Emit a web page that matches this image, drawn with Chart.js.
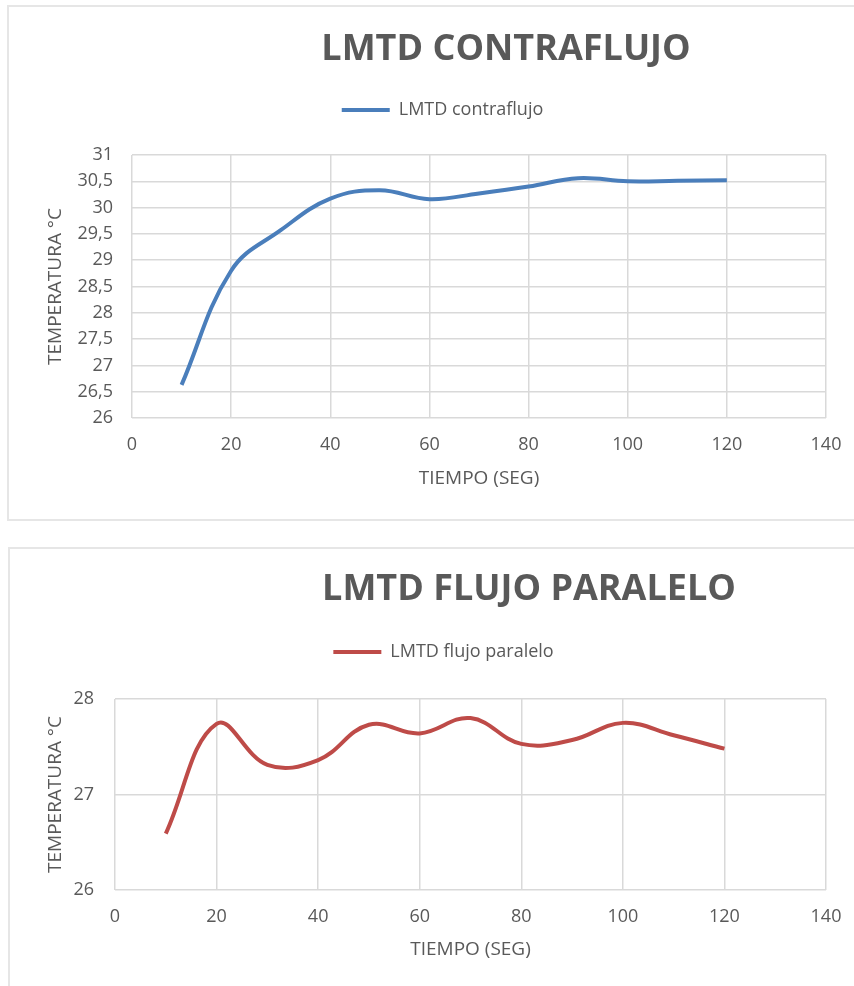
<!DOCTYPE html>
<html>
<head>
<meta charset="utf-8">
<script src="https://cdn.jsdelivr.net/npm/chart.js@4.4.1/dist/chart.umd.min.js"></script>
<style>
body { margin: 0; background: #fff; width: 854px; height: 986px; overflow: hidden; position: relative; }
.box { position: absolute; border: 2px solid #e6e6e6; box-sizing: border-box; }
#box1 { left: 7px; top: 5px; width: 900px; height: 516px; }
#box2 { left: 8px; top: 547px; width: 900px; height: 500px; }
canvas { position: absolute; }
#c1 { left: 8px; top: 6px; }
#c2 { left: 10px; top: 549px; }
</style>
</head>
<body>
<div class="box" id="box1"></div>
<div class="box" id="box2"></div>
<canvas id="c1" width="846" height="514"></canvas>
<canvas id="c2" width="844" height="437"></canvas>
<script>
// tiempo (seg) de cada lectura
const tiempo = [10, 20, 30, 40, 50, 60, 70, 80, 90, 100, 110, 120];
// LMTD en °C
const contraflujo = [26.63, 28.80, 29.57, 30.17, 30.33, 30.16, 30.27, 30.40, 30.56, 30.50, 30.51, 30.52];
const paralelo = [26.59, 27.74, 27.31, 27.36, 27.73, 27.64, 27.80, 27.53, 27.57, 27.75, 27.62, 27.48];

const xMin = 0, xMax = 140, xStep = 20;
const yContra = [26, 31, 0.5];
const yParalelo = [26, 28, 1];

Chart.defaults.font.family = "'Open Sans', sans-serif";
Chart.defaults.color = '#595959';

// moves title and legend to where Excel put them, without touching the plot area
const placeTitleLegend = {
    id: 'placeTitleLegend',
    afterLayout(chart, args, opts) {
        const t = chart.titleBlock, lg = chart.legend;
        let dx = opts.titleX - (t.left + t.right) / 2;
        t.left += dx; t.right += dx;
        let dy = opts.titleTop - t.top;
        t.top += dy; t.bottom += dy;
        dx = opts.legendX - (lg.left + lg.right) / 2;
        lg.left += dx; lg.right += dx;
        dy = opts.legendTop - lg.top;
        lg.top += dy; lg.bottom += dy;
    }
};

function points(xs, ys) {
    return xs.map((x, i) => ({ x: x, y: ys[i] }));
}

function comma(v) {
    return String(v).replace('.', ',');
}

function lmtdChart(id, title, label, values, color, yRange, lay) {
    return new Chart(document.getElementById(id), {
        type: 'line',
        data: {
            datasets: [{
                label: label,
                data: points(tiempo, values),
                borderColor: color,
                backgroundColor: color,
                borderWidth: 4,
                pointRadius: 0,
                tension: 0.4,
                fill: false
            }]
        },
        plugins: [placeTitleLegend],
        options: {
            responsive: false,
            animation: false,
            layout: { padding: lay.padding },
            plugins: {
                title: {
                    display: true,
                    text: title,
                    color: '#595959',
                    font: { size: 36, weight: 'bold' },
                    padding: 0
                },
                legend: {
                    labels: {
                        usePointStyle: true,
                        pointStyle: 'line',
                        pointStyleWidth: 48,
                        padding: 10,
                        color: '#595959',
                        font: { size: 18 }
                    }
                },
                tooltip: { enabled: false },
                placeTitleLegend: lay.place
            },
            scales: {
                x: {
                    type: 'linear',
                    min: xMin,
                    max: xMax,
                    ticks: { stepSize: xStep, padding: 16.2, font: { size: 18 }, color: '#595959' },
                    grid: { color: '#d9d9d9', lineWidth: 1.5, drawTicks: false },
                    border: { display: false },
                    title: {
                        display: true,
                        text: 'TIEMPO (SEG)',
                        color: '#595959',
                        font: { size: 19 },
                        padding: { top: 0, bottom: 8 }
                    },
                    afterFit: s => {
                        s.height = lay.xHeight;
                        s.paddingLeft = 0;
                        s.paddingRight = 0;
                    }
                },
                y: {
                    min: yRange[0],
                    max: yRange[1],
                    ticks: { stepSize: yRange[2], padding: lay.yPad, font: { size: 18 }, color: '#595959', callback: comma },
                    grid: { color: '#d9d9d9', lineWidth: 1.5, drawTicks: false },
                    border: { display: false },
                    title: {
                        display: true,
                        text: 'TEMPERATURA °C',
                        color: '#595959',
                        font: { size: 19 },
                        padding: { top: 6, bottom: 0 }
                    },
                    afterFit: s => { s.width = lay.yWidth; }
                }
            }
        }
    });
}

// LMTD contraflujo
lmtdChart('c1', 'LMTD CONTRAFLUJO', 'LMTD contraflujo', contraflujo, '#4a7ebb', yContra, {
    padding: { top: 67.8, left: 30, right: 28, bottom: 21.6 },
    xHeight: 80.4,
    yWidth: 94,
    yPad: 19,
    place: { titleX: 498, titleTop: 21.9, legendX: 434.5, legendTop: 85 }
});

// LMTD flujo paralelo
lmtdChart('c2', 'LMTD FLUJO PARALELO', 'LMTD flujo paralelo', paralelo, '#be4b48', yParalelo, {
    padding: { top: 68.8, left: 28, right: 28, bottom: 16.6 },
    xHeight: 79.4,
    yWidth: 77,
    yPad: 21,
    place: { titleX: 519, titleTop: 19.4, legendX: 433.5, legendTop: 84 }
});
</script>
</body>
</html>
